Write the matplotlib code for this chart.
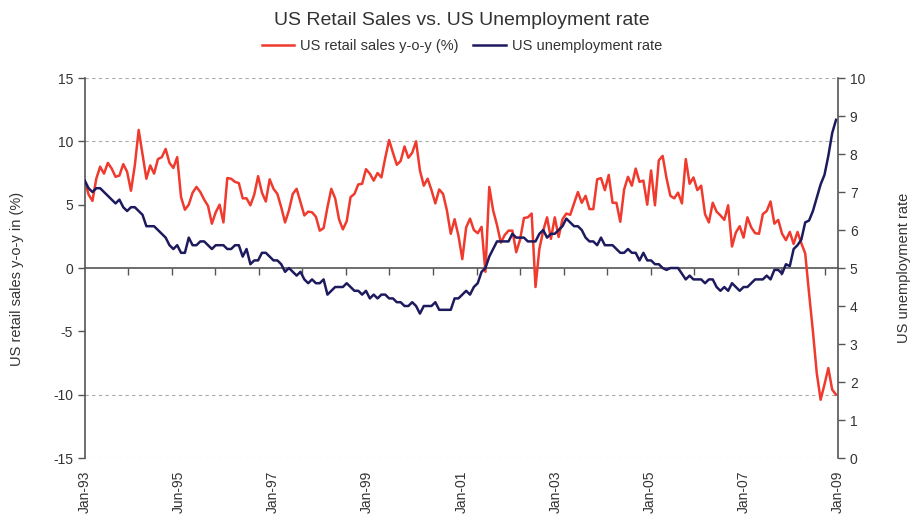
import numpy as np
import matplotlib.pyplot as plt

plt.rcParams['font.family'] = ['Liberation Sans', 'DejaVu Sans']
plt.rcParams['axes.unicode_minus'] = False

# monthly values, Jan-93 .. Apr-09
retail_sales = [
    6.9, 5.8, 5.3, 7.05, 8.0, 7.45, 8.3, 7.85, 7.2, 7.3, 8.2, 7.6,
    6.1, 8.1, 10.9, 8.95, 7.05, 8.1, 7.45, 8.6, 8.75, 9.4, 8.3, 7.9,
    8.75, 5.6, 4.6, 5.0, 5.95, 6.4, 6.0, 5.4, 4.9, 3.5, 4.4, 5.0,
    3.6, 7.1, 7.05, 6.8, 6.7, 5.5, 5.5, 4.95, 5.8, 7.25, 5.95, 5.25,
    7.0, 6.25, 5.85, 4.8, 3.6, 4.55, 5.85, 6.25, 5.2, 4.15, 4.45, 4.4,
    4.05, 2.95, 3.15, 4.8, 6.25, 5.5, 3.85, 3.05, 3.7, 5.6, 5.85, 6.6,
    6.65, 7.8, 7.45, 6.9, 7.5, 7.15, 8.7, 10.1, 9.1, 8.15, 8.45, 9.6,
    8.7, 9.1, 10.0, 7.7, 6.5, 7.05, 6.15, 5.1, 6.2, 5.85, 4.55, 2.7,
    3.85, 2.55, 0.7, 3.2, 3.9, 3.0, 2.75, 3.25, -0.3, 6.4, 4.55, 3.4,
    2.0, 2.6, 2.95, 2.95, 1.25, 2.25, 3.95, 4.0, 4.3, -1.5, 1.5, 2.95,
    4.0, 2.3, 4.0, 2.45, 3.85, 4.3, 4.2, 5.1, 6.0, 5.15, 5.7, 4.65,
    4.65, 7.0, 7.1, 6.15, 7.35, 5.15, 5.15, 3.65, 6.2, 7.2, 6.5, 7.85,
    6.8, 6.9, 5.0, 7.7, 4.95, 8.5, 8.85, 7.1, 5.7, 5.5, 5.95, 5.1,
    8.6, 6.65, 7.15, 6.15, 6.5, 4.25, 3.6, 5.15, 4.45, 4.15, 3.8, 4.95,
    1.7, 2.8, 3.3, 2.4, 4.0, 3.2, 2.75, 2.7, 4.25, 4.5, 5.25, 3.5,
    3.8, 2.7, 2.2, 2.85, 1.9, 2.85, 1.95, 1.15, -2.0, -5.0, -8.3, -10.4,
    -9.2, -7.9, -9.6, -10.0,
]
unemployment = [
    7.3, 7.1, 7.0, 7.1, 7.1, 7.0, 6.9, 6.8, 6.7, 6.8, 6.6, 6.5,
    6.6, 6.6, 6.5, 6.4, 6.1, 6.1, 6.1, 6.0, 5.9, 5.8, 5.6, 5.5,
    5.6, 5.4, 5.4, 5.8, 5.6, 5.6, 5.7, 5.7, 5.6, 5.5, 5.6, 5.6,
    5.6, 5.5, 5.5, 5.6, 5.6, 5.3, 5.5, 5.1, 5.2, 5.2, 5.4, 5.4,
    5.3, 5.2, 5.2, 5.1, 4.9, 5.0, 4.9, 4.8, 4.9, 4.7, 4.6, 4.7,
    4.6, 4.6, 4.7, 4.3, 4.4, 4.5, 4.5, 4.5, 4.6, 4.5, 4.4, 4.4,
    4.3, 4.4, 4.2, 4.3, 4.2, 4.3, 4.3, 4.2, 4.2, 4.1, 4.1, 4.0,
    4.0, 4.1, 4.0, 3.8, 4.0, 4.0, 4.0, 4.1, 3.9, 3.9, 3.9, 3.9,
    4.2, 4.2, 4.3, 4.4, 4.3, 4.5, 4.6, 4.9, 5.0, 5.3, 5.5, 5.7,
    5.7, 5.7, 5.7, 5.9, 5.8, 5.8, 5.8, 5.7, 5.7, 5.7, 5.9, 6.0,
    5.8, 5.9, 5.9, 6.0, 6.1, 6.3, 6.2, 6.1, 6.1, 6.0, 5.8, 5.7,
    5.7, 5.6, 5.8, 5.6, 5.6, 5.6, 5.5, 5.4, 5.4, 5.5, 5.4, 5.4,
    5.2, 5.4, 5.2, 5.2, 5.1, 5.1, 5.0, 4.95, 5.0, 5.0, 5.0, 4.85,
    4.7, 4.8, 4.7, 4.7, 4.7, 4.6, 4.7, 4.7, 4.5, 4.4, 4.5, 4.4,
    4.6, 4.5, 4.4, 4.5, 4.5, 4.6, 4.7, 4.7, 4.7, 4.8, 4.7, 4.95,
    4.95, 4.85, 5.1, 5.05, 5.5, 5.6, 5.75, 6.2, 6.25, 6.5, 6.85, 7.2,
    7.45, 7.95, 8.55, 8.9,
]
date_labels = ['Jan-93', 'Jun-95', 'Jan-97', 'Jan-99', 'Jan-01',
               'Jan-03', 'Jan-05', 'Jan-07', 'Jan-09']
grid_levels = [15, 10, -10, -15]

red = '#ef3a2d'
navy = '#1d1a5e'
axis_grey = '#555555'
text_grey = '#333333'

months = np.arange(len(retail_sales))
x_end = 195.5

fig = plt.figure(figsize=(9.15, 5.16), dpi=100)
ax = fig.add_axes([0.0926, 0.1124, 0.8232, 0.7364])
ax2 = ax.twinx()

for lvl in grid_levels:
    ax.axhline(lvl, color='#aaaaaa', lw=0.8, ls=(0, (3, 3)), zorder=0)

l1, = ax.plot(months, retail_sales, color=red, lw=1.8,
              label='US retail sales y-o-y (%)')
l2, = ax2.plot(months, unemployment, color=navy, lw=1.8,
               label='US unemployment rate')

ax.set_xlim(0, x_end)
ax.set_ylim(-15, 15)
ax2.set_ylim(0, 10)
ax.set_yticks(range(-15, 16, 5))
ax2.set_yticks(range(0, 11))

# date labels along the bottom, no tick marks there
ax.set_xticks(np.linspace(0, x_end, 9))
ax.set_xticklabels(date_labels, rotation=90, fontsize=10, color=text_grey)
ax.tick_params(axis='x', length=0, pad=9)

# the category axis itself crosses at zero
zero_axis = ax.secondary_xaxis(0.5)
zero_axis.set_alignment('bottom')
zero_axis.set_xticks(np.arange(11.3, x_end, 11.3))
zero_axis.tick_params(axis='x', direction='out', length=5, width=1,
                      color=axis_grey, labelbottom=False, labeltop=False)
zero_axis.spines['bottom'].set_color(axis_grey)
zero_axis.spines['bottom'].set_linewidth(1.2)

for a in (ax, ax2):
    a.spines['top'].set_visible(False)
    a.spines['bottom'].set_visible(False)
ax.spines['right'].set_visible(False)
ax2.spines['left'].set_visible(False)
ax.spines['left'].set_color(axis_grey)
ax.spines['left'].set_linewidth(1.2)
ax2.spines['right'].set_color(axis_grey)
ax2.spines['right'].set_linewidth(1.2)

ax.tick_params(axis='y', direction='out', length=5, width=1, color=axis_grey,
               labelsize=10, labelcolor=text_grey)
ax2.tick_params(axis='y', direction='out', length=5, width=1, color=axis_grey,
                labelsize=10, labelcolor=text_grey)

ax.set_ylabel('US retail sales y-o-y in (%)', fontsize=10.5, color=text_grey)
ax.yaxis.set_label_coords(-0.080, 0.47)
ax2.set_ylabel('US unemployment rate', fontsize=10.5, color=text_grey)
ax2.yaxis.set_label_coords(1.079, 0.5)

fig.text(0.505, 0.961, 'US Retail Sales vs. US Unemployment rate',
         ha='center', va='center', fontsize=14, color=text_grey)
fig.legend(handles=[l1, l2], loc='center', bbox_to_anchor=(0.505, 0.911),
           ncol=2, frameon=False, fontsize=10.5, handlelength=2.2,
           handletextpad=0.45, columnspacing=1.0, labelcolor=text_grey)

fig.savefig('out.png', dpi=100)
